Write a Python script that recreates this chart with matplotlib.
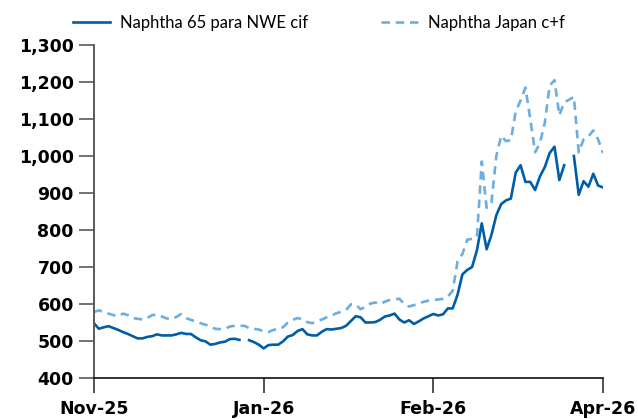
import matplotlib.pyplot as plt
import numpy as np

plt.rcParams['font.family'] = ['DejaVu Sans']

nan = np.nan

# Naphtha 65 para NWE cif ($/t), one value per trading day
nwe = [548, 533, 537, 540, 535, 530, 524, 519, 513, 507,
       507, 511, 513, 518, 515, 515, 515, 518, 522, 519,
       519, 510, 502, 499, 490, 492, 496, 498, 505, 506,
       503, nan, 502, 497, 490, 480, 489, 490, 490, 499,
       512, 516, 527, 532, 518, 515, 515, 525, 532, 531,
       533, 535, 541, 554, 567, 564, 550, 550, 551, 557,
       566, 569, 574, 558, 550, 556, 546, 553, 561, 567,
       573, 569, 572, 588, 588, 625, 680, 692, 700, 745,
       818, 748, 787, 840, 870, 880, 885, 955, 975, 930,
       930, 908, 945, 970, 1008, 1025, 935, 975, nan, 1000,
       895, 932, 917, 952, 920, 915]

# Naphtha Japan c+f ($/t)
japan = [578, 583, 578, 574, 570, 567, 574, 570, 562, 560,
         558, 562, 570, 571, 566, 561, 559, 565, 573, 562,
         557, 553, 548, 544, 539, 533, 532, 533, 539, 541,
         541, 541, 535, 533, 531, 526, 524, 530, 532, 537,
         550, 557, 562, 559, 551, 548, 553, 558, 564, 569,
         575, 579, 584, 599, 598, 586, 592, 601, 604, 600,
         606, 611, 613, 614, 600, 593, 597, 601, 606, 609,
         611, 612, 614, 620, 636, 715, 735, 774, 776, 781,
         985, 860, 875, 1000, 1055, 1040, 1043, 1120, 1150, 1185,
         1100, 1010, 1035, 1090, 1190, 1205, 1110, 1145, 1152, 1160,
         1010, 1045, 1053, 1069, 1045, 1008]

x_labels = ['Nov-25', 'Jan-26', 'Feb-26', 'Apr-26']
x_label_pos = [0, 35, 70, 105]
y_ticks = [400, 500, 600, 700, 800, 900, 1000, 1100, 1200, 1300]

x = np.arange(len(nwe))

fig = plt.figure(figsize=(6.38, 4.19), dpi=100)
ax = fig.add_axes([0.1473, 0.0979, 0.7978, 0.7947])

ax.plot(x, nwe, color='#005da8', lw=1.9, label='Naphtha 65 para NWE cif')
ax.plot(x, japan, color='#6aaee2', lw=1.9, linestyle=(0, (3.2, 2.2)),
        label='Naphtha Japan c+f')

ax.set_xlim(0, len(nwe) - 1)
ax.set_ylim(400, 1300)
ax.set_yticks(y_ticks)
ax.set_yticklabels(['{:,}'.format(v) for v in y_ticks])
ax.set_xticks(x_label_pos)
ax.set_xticklabels(x_labels)

for s in ['top', 'right']:
    ax.spines[s].set_visible(False)
ax.spines['left'].set_color('#595959')
ax.spines['left'].set_linewidth(1.4)
ax.spines['bottom'].set_color('#111111')
ax.spines['bottom'].set_linewidth(1.2)
ax.tick_params(axis='y', length=10.5, width=1.2, color='#595959', pad=4,
               labelsize=12.5)
ax.tick_params(axis='x', length=10.5, width=1.2, color='#333333', pad=5,
               labelsize=12.5)
for t in ax.get_yticklabels() + ax.get_xticklabels():
    t.set_fontweight('bold')

fig.legend(loc='center', bbox_to_anchor=(0.5, 0.945), ncol=2,
           frameon=False, handlelength=2.2, columnspacing=4.4,
           handletextpad=0.6, borderaxespad=0,
           prop={'family': ['Lato', 'DejaVu Sans'], 'size': 12})

fig.savefig('out.png', dpi=100)
